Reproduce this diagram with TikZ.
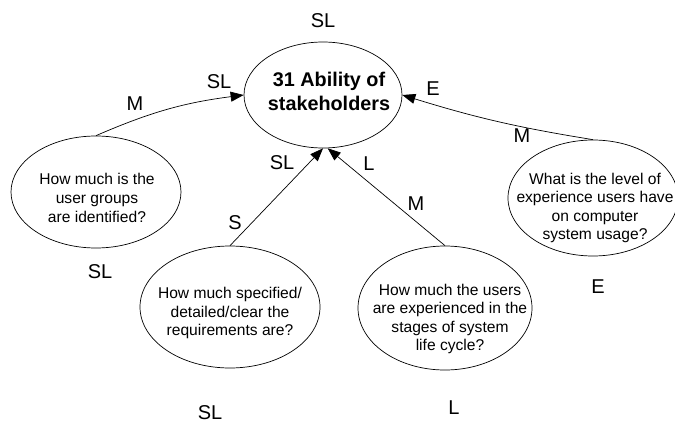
\documentclass[tikz,border=0pt]{standalone}
\usepackage{fontspec}
\setmainfont{Liberation Sans}
\usetikzlibrary{shapes.geometric,arrows.meta}

\begin{document}
\begin{tikzpicture}[x=1pt, y=-1pt, >={Triangle[length=13pt,width=10pt]},
  oval/.style={draw, ellipse, line width=0.7pt, inner sep=0pt},
  qtext/.style={align=center, font=\fontsize{15.6}{18.6}\selectfont, inner sep=0pt},
  lvl/.style={font=\fontsize{20}{24}\selectfont, inner sep=0pt},
  link/.style={->, line width=0.7pt}]
  \useasboundingbox (0,0) rectangle (675,423);

  % central factor
  \node[oval, minimum width=158pt, minimum height=106pt] (main) at (323,95) {};
  \node[align=center, font=\bfseries\fontsize{19.8}{24}\selectfont, inner sep=0pt] (maintext) at (329,91) {31 Ability of\\stakeholders};

  % questions
  \node[oval, minimum width=170pt, minimum height=112pt] (q1) at (96,192) {};
  \node[qtext] (q1text) at (97,198) {How much is the\\user groups\\are identified?};
  \node[oval, minimum width=180pt, minimum height=122pt] (q2) at (230,307) {};
  \node[qtext] (q2text) at (230,313) {How much specified/\\detailed/clear the\\requirements are?};
  \node[oval, minimum width=174pt, minimum height=124pt] (q3) at (445,308) {};
  \node[qtext] (q3text) at (450,319) {How much the users\\are experienced in the\\stages of system\\life cycle?};
  \node[oval, minimum width=170pt, minimum height=116pt] (q4) at (593,198) {};
  \node[qtext] (q4text) at (595,208) {What is the level of\\experience users have\\on computer\\system usage?};

  \draw[link] (q1.north) to[bend left=8] (main.west);
  \draw[link] (q2.north) -- (main.south);
  \draw[link] (q3.north) -- (main.275);
  \draw[link] (q4.north) to[bend left=4] (main.east);

  % levels
  \node[lvl] (lvlmain) at (323,21) {SL};
  \node[lvl] (lvlq1in) at (219,82) {SL};
  \node[lvl] (lvlq1out) at (135,104) {M};
  \node[lvl] (lvlq1) at (100,272) {SL};
  \node[lvl] (lvlq4in) at (433,89) {E};
  \node[lvl] (lvlq4out) at (522,136) {M};
  \node[lvl] (lvlq4) at (598,287) {E};
  \node[lvl] (lvlq2in) at (282,163) {SL};
  \node[lvl] (lvlq2out) at (235,223) {S};
  \node[lvl] (lvlq2) at (210,413) {SL};
  \node[lvl] (lvlq3in) at (369,164) {L};
  \node[lvl] (lvlq3out) at (416,204) {M};
  \node[lvl] (lvlq3) at (454,408) {L};
\end{tikzpicture}
\end{document}
